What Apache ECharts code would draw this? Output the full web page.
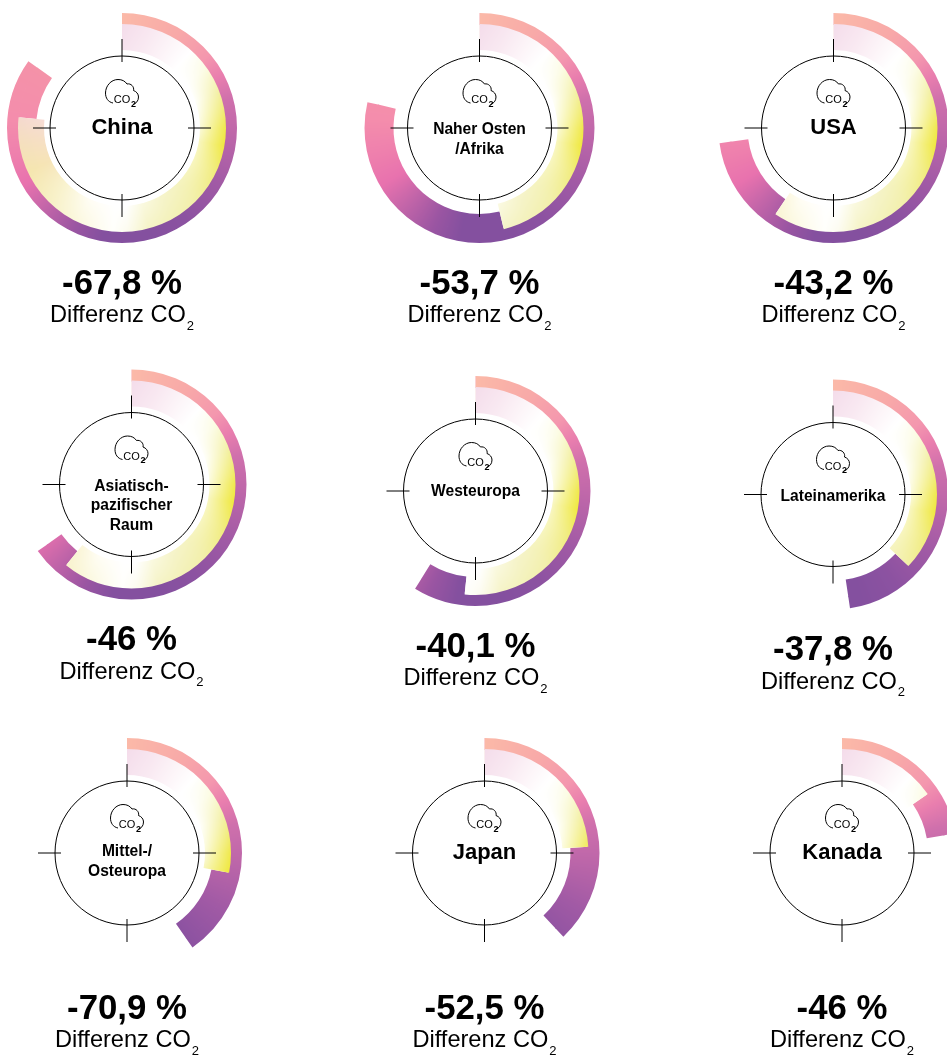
<!DOCTYPE html>
<html><head><meta charset="utf-8">
<style>html,body{margin:0;padding:0;background:#fff}#c{width:947px;height:1055px}</style>
<script src="https://cdn.jsdelivr.net/npm/echarts@6/dist/echarts.min.js"></script>
</head><body><div id="c"></div>
<script>
// ---- data ----
const regions = ['China','Naher Osten\n/Afrika','USA','Asiatisch-\npazifischer\nRaum','Westeuropa','Lateinamerika','Mittel-/\nOsteuropa','Japan','Kanada'];
const differenceLabels = ['-67,8 %','-53,7 %','-43,2 %','-46 %','-40,1 %','-37,8 %','-70,9 %','-52,5 %','-46 %'];
const outerSweep = [305.5,283,262.4,234.6,211.7,171.5,145.3,136.7,80.2];   // degrees on the angle axis
const innerSweep = [276,166.5,214,219,186,133.5,101,86.6,55.5];            // degrees on the angle axis

// ---- layout ----
const centers = [[122,128],[479.5,128],[833.5,128],[131.5,484.5],[475.5,491],[833,494.5],[127,853],[484.5,853],[842,853]];
const nameOffsets = [0,11.5,0,21.5,1,1.7,8.5,0,0];
const R = {circle:72, tickIn:66, tickOut:89, innerBand:78, thick:86, split:104, outer:115};
const FONT = '"Liberation Sans", Arial, Helvetica, sans-serif';
const CLOUD = 'M-9,-25C-14,-26 -16.5,-30 -16.5,-35C-16.5,-42 -11,-48.5 -4,-48.5C0,-48.5 3,-47 5,-44C9,-45 12.5,-41 11.5,-37.5C14.5,-36.5 16.5,-34 16.5,-31C16.5,-27 14,-24.5 11,-23.5';

// ---- textures ----
const outerStops = [[0,'#FBB9A8'],[30,'#F8A9A8'],[50,'#F497AE'],[62,'#E97EAE'],[75,'#CF70AC'],[95,'#BC66A9'],[120,'#A15AA5'],[145,'#8C52A1'],[165,'#84509F'],[190,'#84509F'],[205,'#9A55A2'],[225,'#C566A9'],[240,'#E872AE'],[255,'#EE7FAD'],[275,'#F48DAC'],[306,'#F492A8'],[360,'#F492A8']];
const innerStops = [[0,'#F4DCEA','#F6E2EE'],[15,'#F8E6F0','#F9EAF2'],[30,'#FCF5F8','#FDF5F9'],[42,'#FFFFFF','#FFFFFF'],[55,'#FBFBE0','#FFFFFF'],[70,'#F2EFA0','#FFFFFA'],[90,'#EFE84A','#FBFAD8'],[100,'#EFE83E','#F8F6C0'],[115,'#F0EB78','#F8F6C0'],[135,'#F2EFA8','#F5F3C0'],[150,'#F3F1B8','#F6F4CC'],[165,'#F5F3C6','#FAF9E0'],[177,'#FCFBEE','#FFFFFF'],[185,'#FFFFFB','#FFFFFF'],[205,'#FBF8DE','#FFFDF4'],[225,'#F7F0C4','#F9F3D0'],[245,'#F5E6AE','#F6E4B8'],[262,'#F5DFBE','#F6DFC6'],[278,'#F5D8D0','#F7DCD8'],[360,'#F5D8D0','#F7DCD8']];
const rgb = h => [1,3,5].map(i => parseInt(h.substr(i,2),16));
function sample(stops, a, idx){
  for (let i=1;i<stops.length;i++){
    if (a<=stops[i][0]){
      const t=(a-stops[i-1][0])/(stops[i][0]-stops[i-1][0]);
      const p=rgb(stops[i-1][idx]), q=rgb(stops[i][idx]);
      return p.map((v,k)=>v+(q[k]-v)*t);
    }
  }
  return rgb(stops[stops.length-1][idx]);
}
function texture(fn){
  const S=240, c=document.createElement('canvas'); c.width=c.height=S;
  const x=c.getContext('2d'), d=x.createImageData(S,S);
  for(let j=0;j<S;j++)for(let i=0;i<S;i++){
    const dx=i+.5-120, dy=j+.5-120, r=Math.hypot(dx,dy);
    let a=Math.atan2(dx,-dy)*180/Math.PI; if(a<0)a+=360;
    const col=fn(a,r), o=(j*S+i)*4;
    d.data[o]=col[0];d.data[o+1]=col[1];d.data[o+2]=col[2];d.data[o+3]=255;
  }
  x.putImageData(d,0,0); return c;
}
const outerTex = texture(a=>sample(outerStops,a,1));
const innerTex = texture((a,r)=>{
  const t=Math.min(1,Math.max(0,(r-R.innerBand)/(R.split-R.innerBand)));
  const o=sample(innerStops,a,1), n=sample(innerStops,a,2);
  return o.map((v,k)=>n[k]+(v-n[k])*t);
});

function renderRegion(i){
  return function(params, api){
    const cs=params.coordSys, cx=cs.cx, cy=cs.cy;
    const outerVal=api.value(0), innerVal=api.value(1);
    const ang=v=>{const p=api.coord([R.outer,v]);return Math.atan2(p[1]-cy,p[0]-cx);};
    const rad=v=>{const p=api.coord([v,0]);return Math.hypot(p[0]-cx,p[1]-cy);};
    const start=-Math.PI/2;
    const unwrap=a=>{while(a<=start)a+=2*Math.PI;return a;};
    const endO=unwrap(ang(outerVal)), endI=unwrap(ang(innerVal));
    const fill=img=>({image:img,repeat:'no-repeat',x:cx-120,y:cy-120});
    const sector=(r0,r,s,e,img)=>({type:'sector',shape:{cx,cy,r0:rad(r0),r:rad(r),startAngle:s,endAngle:e,clockwise:true},style:{fill:fill(img)}});
    const children=[
      sector(R.split-1,R.outer,start,endO,outerTex),
      sector(R.thick,R.split,endI,endO,outerTex),
      sector(R.innerBand,R.split,start,endI,innerTex),
      {type:'circle',shape:{cx,cy,r:rad(R.circle)},style:{fill:'#fff',stroke:'#000',lineWidth:1}}
    ];
    [0,90,180,270].forEach(a=>{
      const p=api.coord([R.tickIn,a]), q=api.coord([R.tickOut,a]);
      children.push({type:'line',shape:{x1:p[0],y1:p[1],x2:q[0],y2:q[1]},style:{stroke:'#000',lineWidth:1}});
    });
    children.push({type:'path',x:cx,y:cy,shape:{pathData:CLOUD},style:{fill:'none',stroke:'#000',lineWidth:1}});
    children.push({type:'text',x:cx,y:cy-28,style:{text:'CO',font:'11px '+FONT,fill:'#000',textAlign:'center',textVerticalAlign:'middle'}});
    children.push({type:'text',x:cx+11.5,y:cy-23.5,style:{text:'2',font:'bold 9px '+FONT,fill:'#000',textAlign:'center',textVerticalAlign:'middle'}});
    const name=regions[i], multi=name.indexOf('\n')>=0 || name.length>8;
    children.push({type:'text',x:cx,y:cy+nameOffsets[i],style:{text:name,font:'bold '+(multi?15.6:22)+'px '+FONT,lineHeight:19.5,fill:'#000',textAlign:'center',textVerticalAlign:'middle'}});
    children.push({type:'text',x:cx,y:cy+156,style:{text:differenceLabels[i],font:'bold 34.8px '+FONT,fill:'#000',textAlign:'center',textVerticalAlign:'middle'}});
    children.push({type:'text',x:cx,y:cy+187.5,style:{
      text:'{a|Differenz CO}{b|2}',textAlign:'center',textVerticalAlign:'middle',
      rich:{a:{font:'23.6px '+FONT,fill:'#000',lineHeight:34,verticalAlign:'middle'},
            b:{font:'13px '+FONT,fill:'#000',lineHeight:34,verticalAlign:'bottom',padding:[0,0,0,1]}}}});
    return {type:'group',children};
  };
}

const polar=[],angleAxis=[],radiusAxis=[],series=[];
regions.forEach((n,i)=>{
  polar.push({center:centers[i],radius:[0,R.outer]});
  angleAxis.push({polarIndex:i,type:'value',min:0,max:360,startAngle:90,clockwise:true,show:false});
  radiusAxis.push({polarIndex:i,type:'value',min:0,max:R.outer,show:false});
  series.push({type:'custom',coordinateSystem:'polar',polarIndex:i,name:n.replace(/\n/g,' '),clip:false,silent:true,
    encode:{radius:0,angle:1},renderItem:renderRegion(i),data:[[outerSweep[i],innerSweep[i]]]});
});
const chart=echarts.init(document.getElementById('c'),null,{renderer:'canvas',width:947,height:1055});
chart.setOption({animation:false,backgroundColor:'#fff',tooltip:{show:false},polar,angleAxis,radiusAxis,series});
</script></body></html>
